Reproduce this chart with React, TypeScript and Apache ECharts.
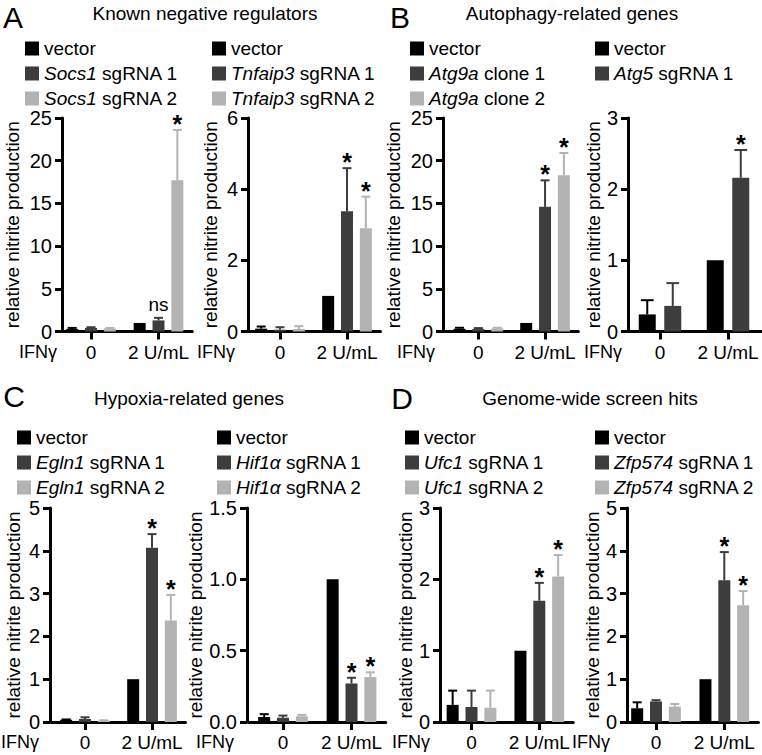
import React, { useEffect, useRef } from 'react';
import * as echarts from 'echarts';

const FONT = '"Liberation Sans", Arial, Helvetica, sans-serif';

// ---------- data ----------
const doseCategories = ['0', '2 U/mL'];
const seriesColors = ['#000000', '#3d3d3d', '#b3b3b3'];

// A (left): Socs1
const socs1Names = ['vector', 'Socs1 sgRNA 1', 'Socs1 sgRNA 2'];
const socs1Means = [[0.3, 1.0], [0.42, 1.3], [0.35, 17.7]];
const socs1Errors = [[0.12, 0], [0.08, 0.3], [0.07, 5.9]];
const socs1Marks = [['', ''], ['', 'ns'], ['', '*']];
const socs1Axis = [0, 25, 5];

// A (right): Tnfaip3
const tnfaip3Names = ['vector', 'Tnfaip3 sgRNA 1', 'Tnfaip3 sgRNA 2'];
const tnfaip3Means = [[0.08, 1.0], [0.05, 3.38], [0.07, 2.9]];
const tnfaip3Errors = [[0.06, 0], [0.07, 1.21], [0.08, 0.89]];
const tnfaip3Marks = [['', ''], ['', '*'], ['', '*']];
const tnfaip3Axis = [0, 6, 2];

// B (left): Atg9a
const atg9aNames = ['vector', 'Atg9a clone 1', 'Atg9a clone 2'];
const atg9aMeans = [[0.32, 1.0], [0.3, 14.6], [0.36, 18.3]];
const atg9aErrors = [[0.12, 0], [0.1, 3.1], [0.08, 2.6]];
const atg9aMarks = [['', ''], ['', '*'], ['', '*']];
const atg9aAxis = [0, 25, 5];

// B (right): Atg5
const atg5Names = ['vector', 'Atg5 sgRNA 1'];
const atg5Means = [[0.24, 1.0], [0.36, 2.16]];
const atg5Errors = [[0.2, 0], [0.32, 0.39]];
const atg5Marks = [['', ''], ['', '*']];
const atg5Axis = [0, 3, 1];

// C (left): Egln1
const egln1Names = ['vector', 'Egln1 sgRNA 1', 'Egln1 sgRNA 2'];
const egln1Means = [[0.05, 1.0], [0.07, 4.07], [0.03, 2.37]];
const egln1Errors = [[0.01, 0], [0.04, 0.32], [0.01, 0.6]];
const egln1Marks = [['', ''], ['', '*'], ['', '*']];
const egln1Axis = [0, 5, 1];

// C (right): Hif1α
const hif1aNames = ['vector', 'Hif1α sgRNA 1', 'Hif1α sgRNA 2'];
const hif1aMeans = [[0.035, 1.0], [0.03, 0.27], [0.04, 0.315]];
const hif1aErrors = [[0.02, 0], [0.015, 0.04], [0.01, 0.033]];
const hif1aMarks = [['', ''], ['', '*'], ['', '*']];
const hif1aAxis = [0, 1.5, 0.5];

// D (left): Ufc1
const ufc1Names = ['vector', 'Ufc1 sgRNA 1', 'Ufc1 sgRNA 2'];
const ufc1Means = [[0.24, 1.0], [0.21, 1.7], [0.2, 2.04]];
const ufc1Errors = [[0.2, 0], [0.23, 0.25], [0.24, 0.3]];
const ufc1Marks = [['', ''], ['', '*'], ['', '*']];
const ufc1Axis = [0, 3, 1];

// D (right): Zfp574
const zfp574Names = ['vector', 'Zfp574 sgRNA 1', 'Zfp574 sgRNA 2'];
const zfp574Means = [[0.32, 1.0], [0.48, 3.31], [0.36, 2.73]];
const zfp574Errors = [[0.14, 0], [0.03, 0.66], [0.06, 0.33]];
const zfp574Marks = [['', ''], ['', '*'], ['', '*']];
const zfp574Axis = [0, 5, 1];

const panelTitles = ['Known negative regulators', 'Autophagy-related genes', 'Hypoxia-related genes', 'Genome-wide screen hits'];
const panelLetters = ['A', 'B', 'C', 'D'];
const yAxisTitle = 'relative nitrite production';
const xAxisTitle = 'IFNγ';

// ---------- layout (positions only) ----------
const panels = [
  { names: socs1Names, means: socs1Means, errors: socs1Errors, marks: socs1Marks, axis: socs1Axis, decimals: 0,
    grid: { left: 57.25, top: 118, width: 135, height: 213.5 }, yOffset: -4.75, nameGap: 40, legend: [25, 39], ifn: [57, 352], barW: 12, gap: 0.57 },
  { names: tnfaip3Names, means: tnfaip3Means, errors: tnfaip3Errors, marks: tnfaip3Marks, axis: tnfaip3Axis, decimals: 0,
    grid: { left: 246.5, top: 118, width: 134, height: 213.5 }, yOffset: -1.5, nameGap: 28, legend: [212, 39], ifn: [235, 352], barW: 12, gap: 0.57 },
  { names: atg9aNames, means: atg9aMeans, errors: atg9aErrors, marks: atg9aMarks, axis: atg9aAxis, decimals: 0,
    grid: { left: 445, top: 118, width: 133.4, height: 213.5 }, yOffset: 2, nameGap: 40, legend: [410, 39], ifn: [435, 352], barW: 12, gap: 0.57 },
  { names: atg5Names, means: atg5Means, errors: atg5Errors, marks: atg5Marks, axis: atg5Axis, decimals: 0,
    grid: { left: 626, top: 118, width: 138, height: 213.5 }, yOffset: -2, nameGap: 23, legend: [595, 39], ifn: [622, 352], barW: 17, gap: 0.5 },
  { names: egln1Names, means: egln1Means, errors: egln1Errors, marks: egln1Marks, axis: egln1Axis, decimals: 0,
    grid: { left: 51.5, top: 508, width: 134, height: 214 }, yOffset: 1.5, nameGap: 27, legend: [17, 428], ifn: [39, 742], barW: 12, gap: 0.57 },
  { names: hif1aNames, means: hif1aMeans, errors: hif1aErrors, marks: hif1aMarks, axis: hif1aAxis, decimals: 1,
    grid: { left: 248.75, top: 508, width: 137, height: 214 }, yOffset: 1.75, nameGap: 26, legend: [217, 428], ifn: [234, 742], barW: 12, gap: 0.57 },
  { names: ufc1Names, means: ufc1Means, errors: ufc1Errors, marks: ufc1Marks, axis: ufc1Axis, decimals: 0,
    grid: { left: 437.6, top: 508, width: 135.6, height: 214 }, yOffset: -2.4, nameGap: 20, legend: [405, 428], ifn: [430, 742], barW: 12, gap: 0.57 },
  { names: zfp574Names, means: zfp574Means, errors: zfp574Errors, marks: zfp574Marks, axis: zfp574Axis, decimals: 0,
    grid: { left: 621.85, top: 508, width: 136.6, height: 214 }, yOffset: -5.15, nameGap: 21, legend: [595, 428], ifn: [610, 742], barW: 12, gap: 0.57 },
];

const titlePos = [[205, 13], [572, 13], [189, 398], [590, 398]];
const letterPos = [[13, 17], [400, 17], [14, 396], [402, 398]];

function txt(text: string, x: number, y: number, size: number, align = 'center', extra: any = {}) {
  return {
    type: 'text', x, y, silent: true,
    style: {
      text, fill: '#000', fontSize: size, fontFamily: FONT,
      align, textAlign: align, verticalAlign: 'middle', textVerticalAlign: 'middle', ...extra,
    },
  };
}

function buildOption() {
  const grid: any[] = [];
  const xAxis: any[] = [];
  const yAxis: any[] = [];
  const series: any[] = [];
  const legend: any[] = [];
  const graphic: any[] = [];

  panels.forEach((p, i) => {
    grid.push({ ...p.grid, containLabel: false });
    xAxis.push({
      type: 'category', gridIndex: i, data: doseCategories,
      axisLine: { show: true, lineStyle: { color: '#000', width: 3 } },
      axisTick: { show: true, alignWithLabel: true, length: 8, lineStyle: { color: '#000', width: 3 } },
      axisLabel: { color: '#000', fontSize: 19, fontFamily: FONT, margin: 11, interval: 0 },
      splitLine: { show: false },
    });
    yAxis.push({
      type: 'value', gridIndex: i, min: p.axis[0], max: p.axis[1], interval: p.axis[2], offset: p.yOffset,
      axisLine: { show: true, lineStyle: { color: '#000', width: 3 } },
      axisTick: { show: true, length: 7, lineStyle: { color: '#000', width: 3 } },
      axisLabel: { color: '#000', fontSize: 20, fontFamily: FONT, margin: 10,
        formatter: (v: number) => v.toFixed(p.decimals) },
      splitLine: { show: false },
      name: yAxisTitle, nameLocation: 'middle', nameGap: p.nameGap,
      nameTextStyle: { color: '#000', fontSize: 19, fontFamily: FONT },
    });
    const n = p.names.length;
    const step = p.barW * (1 + p.gap);
    p.names.forEach((name, j) => {
      const color = seriesColors[j];
      series.push({
        type: 'bar', name, xAxisIndex: i, yAxisIndex: i, data: p.means[j],
        barWidth: p.barW, barGap: `${p.gap * 100}%`, silent: true,
        itemStyle: { color }, emphasis: { disabled: true },
      });
      const offset = (j - (n - 1) / 2) * step;
      const cap = p.barW * 0.75;
      const marks = p.marks[j];
      series.push({
        type: 'custom', name: `err-${i}-${j}`, xAxisIndex: i, yAxisIndex: i, silent: true, z: 5,
        data: p.means[j].map((m, k) => [k, m, m + p.errors[j][k]]),
        renderItem: (params: any, api: any) => {
          const k = api.value(0);
          const base = api.coord([k, api.value(1)]);
          const top = api.coord([k, api.value(2)]);
          const x = base[0] + offset;
          const children: any[] = [];
          if (api.value(2) > api.value(1)) {
            children.push({ type: 'line', shape: { x1: x, y1: base[1], x2: x, y2: top[1] }, style: { stroke: color, lineWidth: 2 } });
            children.push({ type: 'line', shape: { x1: x - cap / 2, y1: top[1], x2: x + cap / 2, y2: top[1] }, style: { stroke: color, lineWidth: 2 } });
          }
          const mark = marks[params.dataIndex];
          if (mark === '*') {
            children.push({ type: 'text', x, y: top[1] - 6, style: { text: '*', fill: '#000', fontSize: 25, fontFamily: FONT, fontWeight: 'bold', align: 'center', textAlign: 'center', verticalAlign: 'middle', textVerticalAlign: 'middle' } });
          } else if (mark) {
            children.push({ type: 'text', x, y: top[1] - 13, style: { text: mark, fill: '#000', fontSize: 19, fontFamily: FONT, align: 'center', textAlign: 'center', verticalAlign: 'middle', textVerticalAlign: 'middle' } });
          }
          return { type: 'group', children };
        },
      });
    });
    legend.push({
      orient: 'vertical', left: p.legend[0], top: p.legend[1], padding: 0, itemGap: 6,
      itemWidth: 14, itemHeight: 14, icon: 'rect', selectedMode: false,
      data: p.names,
      formatter: (name: string) => {
        if (name === 'vector') return `{n|${name}}`;
        const sp = name.indexOf(' ');
        return `{i|${name.slice(0, sp)}}{n|${name.slice(sp)}}`;
      },
      textStyle: {
        color: '#000', fontSize: 19, fontFamily: FONT,
        rich: {
          i: { fontStyle: 'italic', fontSize: 19, fontFamily: FONT, color: '#000' },
          n: { fontSize: 19, fontFamily: FONT, color: '#000' },
        },
      },
    });
    graphic.push(txt(xAxisTitle, p.ifn[0], p.ifn[1], 18, 'right'));
  });

  panelTitles.forEach((t, i) => graphic.push(txt(t, titlePos[i][0], titlePos[i][1], 19)));
  panelLetters.forEach((t, i) => graphic.push(txt(t, letterPos[i][0], letterPos[i][1], 30)));

  return { animation: false, backgroundColor: '#fff', grid, xAxis, yAxis, series, legend, graphic };
}

export default function App() {
  const ref = useRef<HTMLDivElement>(null);
  useEffect(() => {
    if (!ref.current) return;
    const chart = echarts.init(ref.current, null, { renderer: 'svg' });
    chart.setOption(buildOption() as any);
    return () => chart.dispose();
  }, []);
  return <div ref={ref} style={{ position: 'absolute', left: 0, top: 0, width: 762, height: 755 }} />;
}
